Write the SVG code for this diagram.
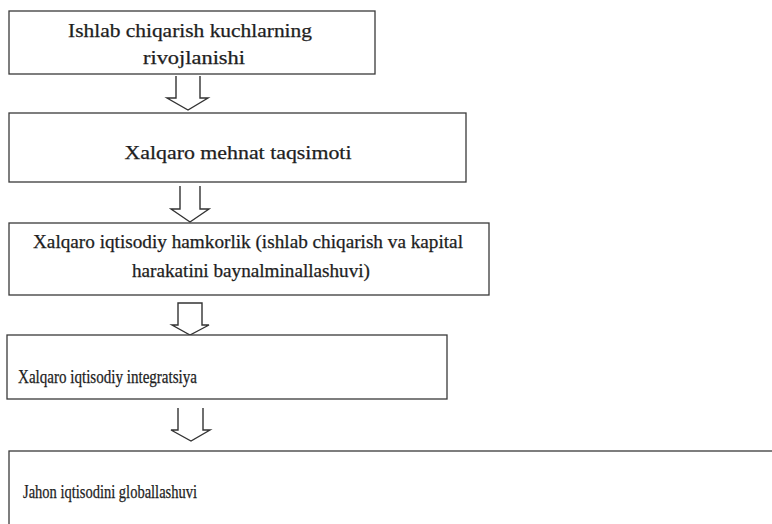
<svg xmlns="http://www.w3.org/2000/svg" width="772" height="524" viewBox="0 0 772 524">
<style>
.box{fill:#fff;stroke:#3a3a3a;stroke-width:1.3}
.t{font-family:"Liberation Serif","Times New Roman",serif;fill:#1e1e1e;stroke:#1e1e1e;stroke-width:0.25}
.c{text-anchor:middle}
.arr{fill:#fff;stroke:#333;stroke-width:1.4;stroke-linejoin:miter}
</style>
<rect width="772" height="524" fill="#fff"/>
<g id="connectors">
<path class="arr" d="M176,76 V98 H167 L188,110 L208,98 H200 V76"/>
<path class="arr" d="M180,186 V209 H171 L190,222 L209,209 H200 V186"/>
<path class="arr" d="M178,303 H202 V325 H209 L190,335 L172,325 H178 Z"/>
<path class="arr" d="M178,408 V430 H171 L191,441 L210,430 H203 V408"/>
</g>
<g id="node1">
<rect class="box" x="9" y="11" width="366" height="63"/>
<text class="t c" x="190" y="37" font-size="18" textLength="244" lengthAdjust="spacingAndGlyphs">Ishlab chiqarish kuchlarning</text>
<text class="t c" x="194" y="64" font-size="18" textLength="102" lengthAdjust="spacingAndGlyphs">rivojlanishi</text>
</g>
<g id="node2">
<rect class="box" x="9" y="113" width="457" height="69"/>
<text class="t c" x="238" y="159" font-size="18" textLength="227" lengthAdjust="spacingAndGlyphs">Xalqaro mehnat taqsimoti</text>
</g>
<g id="node3">
<rect class="box" x="9" y="223" width="480" height="72"/>
<text class="t c" x="248" y="248" font-size="18" textLength="430" lengthAdjust="spacingAndGlyphs">Xalqaro iqtisodiy hamkorlik (ishlab chiqarish va kapital</text>
<text class="t c" x="251" y="277" font-size="18" textLength="238" lengthAdjust="spacingAndGlyphs">harakatini baynalminallashuvi)</text>
</g>
<g id="node4">
<rect class="box" x="7" y="335" width="440" height="64"/>
<text class="t" x="18" y="383" font-size="18" textLength="179" lengthAdjust="spacingAndGlyphs">Xalqaro iqtisodiy integratsiya</text>
</g>
<g id="node5">
<rect class="box" x="9" y="451" width="780" height="90"/>
<text class="t" x="23" y="498" font-size="18" textLength="174" lengthAdjust="spacingAndGlyphs">Jahon iqtisodini globallashuvi</text>
</g>
</svg>
